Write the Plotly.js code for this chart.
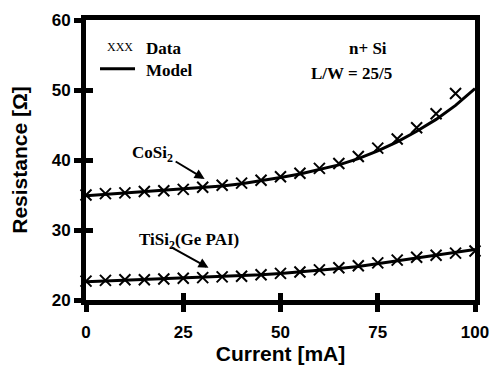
<!DOCTYPE html>
<html><head><meta charset="utf-8">
<script src="https://cdn.plot.ly/plotly-3.0.1.min.js"></script>
<style>body{margin:0;background:#fff}#c{width:490px;height:370px}</style>
</head><body><div id="c"></div>
<script>
const current = [0,5,10,15,20,25,30,35,40,45,50,55,60,65,70,75,80,85,90,95,100];
const coData = [35.0,35.2,35.3,35.5,35.6,35.8,36.1,36.4,36.7,37.1,37.6,38.1,38.8,39.5,40.5,41.7,43.0,44.6,46.6,49.5];
const coModel = [34.9,35.1,35.2,35.4,35.6,35.8,36.0,36.3,36.6,37.0,37.5,38.0,38.6,39.3,40.2,41.3,42.6,44.1,45.8,47.8,50.2];
const tiData = [22.7,22.8,22.9,22.9,23.0,23.1,23.2,23.3,23.4,23.6,23.8,24.0,24.3,24.6,24.9,25.3,25.7,26.1,26.4,26.7,27.0];
const tiModel = [22.6,22.7,22.8,22.9,23.0,23.1,23.2,23.3,23.4,23.6,23.8,24.0,24.2,24.5,24.8,25.2,25.6,26.0,26.4,26.8,27.2];
const xTicks = [0,25,50,75,100];
const yTicks = [20,30,40,50,60];

const serif = 'Liberation Serif, Times New Roman, serif';
const sans = 'Liberation Sans, Arial, sans-serif';
const mk = {symbol:'x-thin-open', size:11, color:'#000', line:{color:'#000', width:2}};
const traces = [
  {x:current, y:coModel, mode:'lines', line:{color:'#000', width:3}, cliponaxis:false},
  {x:current.slice(0, coData.length), y:coData, mode:'markers', marker:mk, cliponaxis:false},
  {x:current, y:tiModel, mode:'lines', line:{color:'#000', width:3}, cliponaxis:false},
  {x:current, y:tiData, mode:'markers', marker:mk, cliponaxis:false},
  {x:[0], y:[20], xaxis:'x2', yaxis:'y2', mode:'markers', marker:{size:1, opacity:0}}
];
const ax = {showgrid:false, zeroline:false, linecolor:'#000', linewidth:5, mirror:true,
  ticks:'outside', ticklen:7, tickwidth:5, tickcolor:'#000'};
const arrowStyle = {showarrow:true, arrowhead:2, arrowsize:1, arrowwidth:2, arrowcolor:'#000', text:' ',
  font:{family:serif, size:2, color:'#000'}, borderpad:0};
const layout = {
  width:490, height:370, margin:{l:86, r:15, t:20, b:70},
  paper_bgcolor:'#fff', plot_bgcolor:'#fff', showlegend:false,
  xaxis: Object.assign({}, ax, {range:[0,100], tickvals:xTicks, ticktext:xTicks.map(v => '<b>' + v + '</b>'),
    tickfont:{family:sans, size:17, color:'#000', weight:'bold'}, ticklabelstandoff:6,
    title:{text:'<b>Current [mA]</b>', font:{family:sans, size:21, color:'#000'}, standoff:6}}),
  yaxis: Object.assign({}, ax, {range:[20,60], tickvals:yTicks, ticktext:yTicks.map(v => '<b>' + v + '</b>'),
    tickfont:{family:sans, size:17, color:'#000', weight:'bold'},
    title:{text:'<b>Resistance [Ω]</b>', font:{family:sans, size:21, color:'#000'}, standoff:20}}),
  xaxis2: {overlaying:'x', matches:'x', range:[0,100], tickvals:xTicks, ticks:'inside', ticklen:7, tickwidth:5,
    tickcolor:'#000', showticklabels:false, showgrid:false, zeroline:false, showline:false},
  yaxis2: {overlaying:'y', matches:'y', range:[20,60], tickvals:yTicks, ticks:'inside', ticklen:7, tickwidth:5,
    tickcolor:'#000', showticklabels:false, showgrid:false, zeroline:false, showline:false},
  shapes: [
    {type:'line', xref:'paper', yref:'paper', x0:0.036, x1:0.126, y0:0.826, y1:0.826, line:{color:'#000', width:3}}
  ],
  annotations: [
    {xref:'paper', yref:'paper', x:0.048, y:0.935, text:'XXX', showarrow:false, font:{family:serif, size:12, color:'#000'}, xanchor:'left'},
    {xref:'paper', yref:'paper', x:0.148, y:0.94, text:'<b>Data</b>', showarrow:false, font:{family:serif, size:17, color:'#000'}, xanchor:'left'},
    {xref:'paper', yref:'paper', x:0.148, y:0.86, text:'<b>Model</b>', showarrow:false, font:{family:serif, size:17, color:'#000'}, xanchor:'left'},
    {xref:'paper', yref:'paper', x:0.78, y:0.94, text:'<b>n+ Si</b>', showarrow:false, font:{family:serif, size:17, color:'#000'}},
    {xref:'paper', yref:'paper', x:0.792, y:0.85, text:'<b>L/W = 25/5</b>', showarrow:false, font:{family:serif, size:17, color:'#000'}},
    {x:17, y:40.8, text:'<b>CoSi<sub>2</sub></b>', showarrow:false, font:{family:serif, size:17, color:'#000'}},
    Object.assign({x:30.5, y:37.3, ax:-30, ay:-18}, arrowStyle),
    {x:26.5, y:28.5, text:'<b>TiSi<sub>2</sub>(Ge PAI)</b>', showarrow:false, font:{family:serif, size:17, color:'#000'}},
    Object.assign({x:31.5, y:24.6, ax:-38, ay:-21}, arrowStyle)
  ]
};
Plotly.newPlot('c', traces, layout, {staticPlot:true});
</script></body></html>
